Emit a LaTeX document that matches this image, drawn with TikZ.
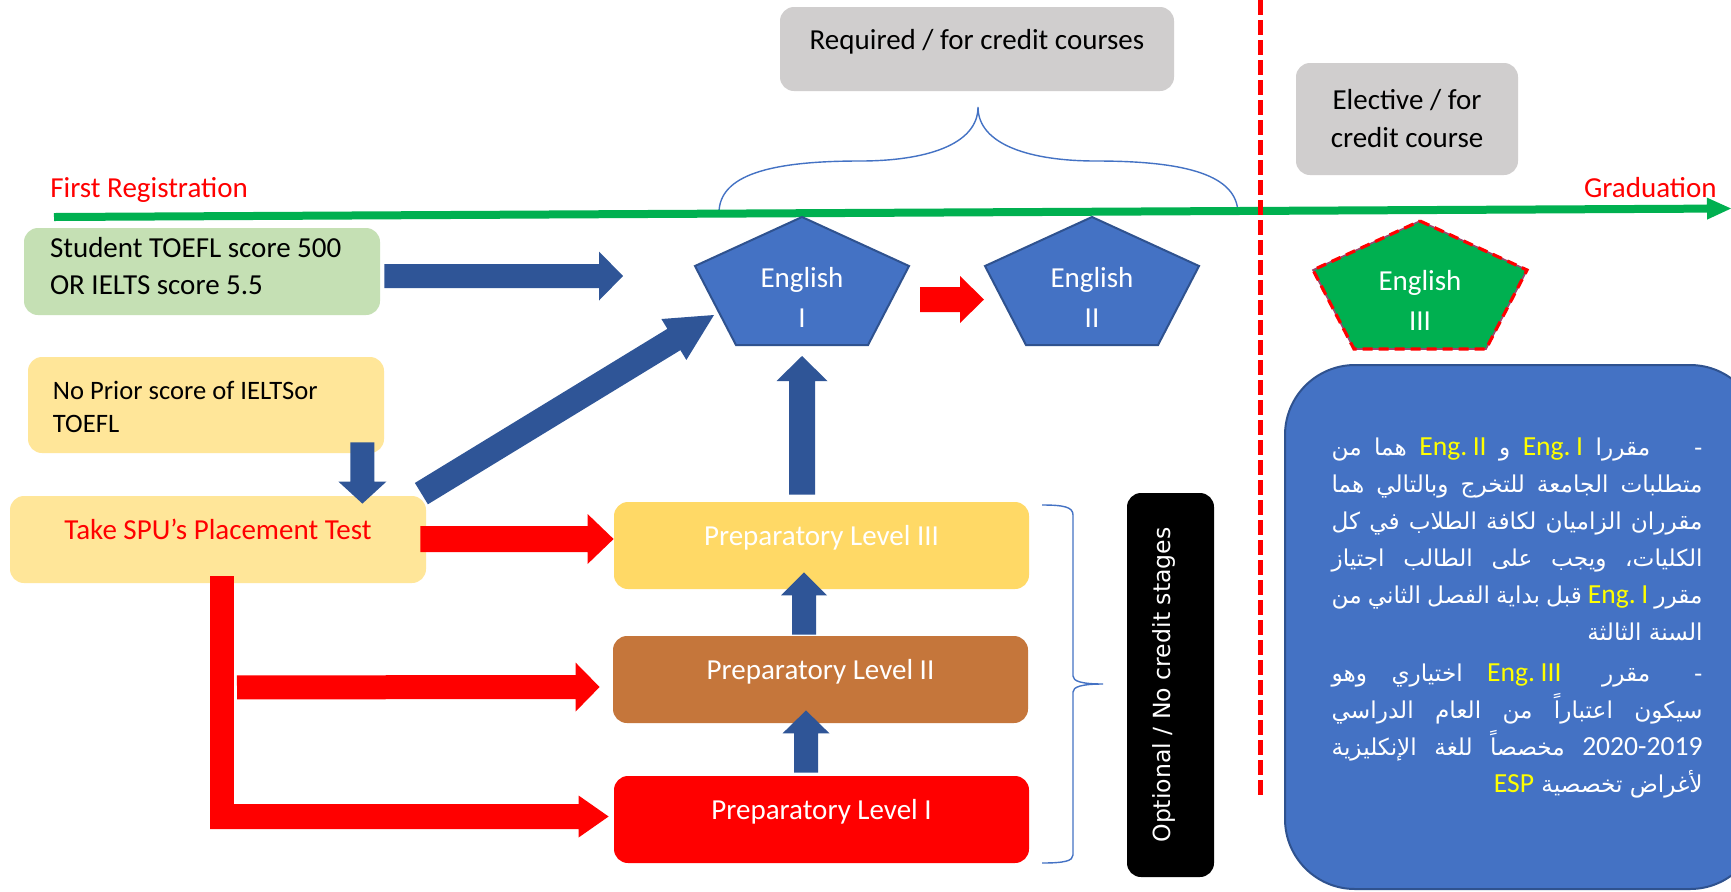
\documentclass[tikz,border=0pt]{standalone}
\usepackage{fontspec}
\setmainfont{Carlito}
\newfontfamily\dejavu{DejaVu Sans}
\newfontfamily\arabicfont[Script=Arabic,Color=FFFFFF]{DejaVu Sans}
\newfontfamily\engyellow[Color=FFFF00]{Carlito}
\newfontfamily\engwhite[Color=FFFFFF]{Carlito}
\TeXXeTstate=1
\usetikzlibrary{calc}
\definecolor{cblue}{HTML}{4472C4}
\definecolor{cbluedk}{HTML}{2F528F}
\definecolor{carrow}{HTML}{2F5597}
\definecolor{cgreen}{HTML}{00B050}
\definecolor{cgreenl}{HTML}{C5E0B4}
\definecolor{cyell}{HTML}{FFE699}
\definecolor{clvthree}{HTML}{FFD966}
\definecolor{clvtwo}{HTML}{C5763B}
\definecolor{cred}{HTML}{FF0000}
\definecolor{cgray}{HTML}{D0CECE}
\definecolor{cpurp}{HTML}{A0436E}
\newcommand\Y[1]{{\engyellow\fontsize{13.8}{18.5}\selectfont\beginL #1\endL}}
\newcommand\W[1]{{\engwhite\fontsize{13.8}{18.5}\selectfont\beginL #1\endL}}
\newcommand\arj[1]{\hbox to 185.5pt{\spaceskip=0.2em plus 1fil\relax\beginR #1\endR}}
\newcommand\arr[1]{\hbox to 185.5pt{\hfill\beginR #1\endR}}
\newcommand\blockarrow[6]{%
  \coordinate (bah) at ($(#3)!#6!(#2)$);
  \fill[#1] ($(#2)!#4!90:(#3)$) -- ($(bah)!#4!90:(#3)$) -- ($(bah)!#5!90:(#3)$) -- (#3)
    -- ($(bah)!#5!-90:(#3)$) -- ($(bah)!#4!-90:(#3)$) -- ($(#2)!#4!-90:(#3)$) -- cycle;}
\newcommand\pentagon[2]{\path[#2] ($(#1)+(0,-64)$) -- ($(#1)+(107,-15)$) -- ($(#1)+(66,64)$)
  -- ($(#1)+(-66,64)$) -- ($(#1)+(-107,-15)$) -- cycle;}
\begin{document}
\begin{tikzpicture}[x=0.5pt,y=-0.5pt,
  box/.style={rounded corners=7pt, inner sep=0pt, draw=none},
  lbl/.style={font=\fontsize{14.5}{18.5}\selectfont, inner sep=0pt},
  bl/.style={text height=6pt, text depth=6pt},
  brace/.style={draw=cblue, line width=0.7pt},
  bluepent/.style={fill=cblue, draw=cbluedk, line width=1pt}]
\useasboundingbox (0,0) rectangle (1731,891);
\fill[white] (0,0) rectangle (1731,891);

% braces
\draw[brace] (719,213) .. controls (719,175) and (770,161) .. (860,161)
  .. controls (925,161) and (978,145) .. (978,107)
  .. controls (978,145) and (1031,161) .. (1096,161)
  .. controls (1186,161) and (1238,175) .. (1238,214);
\draw[brace] (1042,505) .. controls (1064,505) and (1073,507) .. (1073,515) -- (1073,676)
  .. controls (1073,681) and (1081,684) .. (1103,684)
  .. controls (1081,684) and (1073,687) .. (1073,692) -- (1073,855)
  .. controls (1073,861) and (1064,863) .. (1042,863);

% timeline
\node[lbl, text=cred, anchor=base west] (firstreg) at (50,197) {First Registration};
\node[lbl, text=cred, anchor=base east] (grad) at (1717,197) {Graduation};
\coordinate (tl0) at ($(firstreg.base west)+(4,20)$);
\coordinate (tl1) at ($(grad.base east)+(14,11.5)$);
\blockarrow{cgreen}{tl0}{tl1}{2pt}{5.5pt}{12pt}

% gray boxes
\node[box, fill=cgray, minimum width=197pt, minimum height=42pt, lbl, bl] (req) at (977,49) {Required / for credit courses};
\node[box, fill=cgray, minimum width=111pt, minimum height=56pt, lbl, align=center, font=\fontsize{14.5}{19}\selectfont] (elec) at (1407,119) {Elective / for\\credit course};

% pentagons
\coordinate (e1c) at (802,281);
\coordinate (e2c) at (1092,281);
\coordinate (e3c) at (1420,285);
\pentagon{e1c}{bluepent}
\pentagon{e2c}{bluepent}
\pentagon{e3c}{fill=cgreen, draw=cpurp, line width=0.8pt}
\pentagon{e3c}{draw=cred, line width=1.6pt, dash pattern=on 5pt off 3pt}
\node[lbl, text=white, align=center, font=\fontsize{14.5}{20}\selectfont] (eng1) at ($(e1c)+(0,16)$) {English\\I};
\node[lbl, text=white, align=center, font=\fontsize{14.5}{20}\selectfont] (eng2) at ($(e2c)+(0,16)$) {English\\II};
\node[lbl, text=white, align=center, font=\fontsize{14.5}{20}\selectfont] (eng3) at ($(e3c)+(0,15.5)$) {English\\III};

% left boxes
\node[box, fill=cgreenl, minimum width=178pt, minimum height=43.5pt] (stud) at (202,271.5) {};
\node[lbl, anchor=west, align=left] (studt) at ($(stud.west)+(26,-5)$) {Student TOEFL score 500\\OR IELTS score 5.5};
\node[box, fill=cyell, minimum width=178pt, minimum height=48pt] (noprior) at (206,405) {};
\node[lbl, anchor=west, align=left, font=\fontsize{13.3}{16.5}\selectfont] (noprt) at ($(noprior.west)+(25,1.5)$) {No Prior score of IELTSor\\TOEFL};
\node[box, fill=cyell, minimum width=208pt, minimum height=43.5pt, lbl, bl, text=cred] (spu) at (218,539.5) {Take SPU’s Placement Test};

% levels
\node[box, fill=clvthree, minimum width=207.5pt, minimum height=43.5pt, lbl, bl, text=white] (lv3) at (821.5,545.5) {Preparatory Level III};
\node[box, fill=clvtwo, minimum width=207.5pt, minimum height=43.5pt, lbl, bl, text=white] (lv2) at (820.5,679.5) {Preparatory Level II};
\node[box, fill=cred, minimum width=207.5pt, minimum height=43.5pt, lbl, bl, text=white] (lv1) at (821.5,819.5) {Preparatory Level I};

% black box
\node[box, fill=black, minimum width=43.5pt, minimum height=192pt] (opt) at (1170.5,685) {};
\node[rotate=90, text=white, inner sep=0pt, font=\dejavu\fontsize{11.8}{14}\selectfont] (optt) at ($(opt)+(-7,0)$) {Optional / No credit stages};

% arabic box
\node[fill=cblue, draw=cbluedk, line width=1pt, rounded corners=35pt, minimum width=237.5pt, minimum height=262pt, inner sep=0pt] (arbox) at (1522.5,627) {};
\node[anchor=base east, inner sep=0pt, font=\arabicfont\fontsize{11.6}{18.5}\selectfont] (artext) at ($(arbox.south east)+(-58,-98)$) {\vbox{\baselineskip=18.5pt\lineskiplimit=-20pt\lineskip=0pt
\arj{-\kern 22pt مقررا \Y{Eng.\kern.2em I} و \Y{Eng.\kern.2em II} هما من}
\arj{متطلبات الجامعة للتخرج وبالتالي هما}
\arj{مقرران الزاميان لكافة الطلاب في كل}
\arj{الكليات، ويجب على الطالب اجتياز}
\arj{مقرر \Y{Eng.\kern.2em I} قبل بداية الفصل الثاني من}
\arr{السنة الثالثة}
\vskip2pt
\arj{-\kern 22pt مقرر \kern8pt\Y{Eng.\kern.2em III} اختياري وهو}
\arj{سيكون اعتباراً من العام الدراسي}
\arj{\W{2020-2019} مخصصاً للغة الإنكليزية}
\arr{لأغراض تخصصية \Y{ESP}}}};

% red dashed divider
\coordinate (dtop) at (1260,0);
\coordinate (dbot) at (1260,797);
\draw[cred, line width=2.5pt, dash pattern=on 7.5pt off 2.5pt] (dtop) -- (dbot);

% blue block arrows
\coordinate (a1s) at ($(stud.east)+(4,4.5)$);
\coordinate (a1e) at ($(e1c)+(-179,-5)$);
\blockarrow{carrow}{a1s}{a1e}{6pt}{12.25pt}{12pt}
\coordinate (a2s) at ($(spu.north east)+(-5,-2)$);
\coordinate (a2e) at ($(e1c)+(-88,34)$);
\blockarrow{carrow}{a2s}{a2e}{6.25pt}{12pt}{23.5pt}
\coordinate (a3s) at ($(noprior.south east)+(-22,-11)$);
\coordinate (a3e) at ($(spu.north east)+(-64,8)$);
\blockarrow{carrow}{a3s}{a3e}{6pt}{12pt}{11pt}
\coordinate (a4s) at ($(lv3.north)+(-19.5,-7)$);
\coordinate (a4e) at ($(e1c)+(0,75)$);
\blockarrow{carrow}{a4s}{a4e}{6.5pt}{12.75pt}{12.5pt}
\coordinate (a5s) at ($(lv2.north)+(-16.5,-1)$);
\coordinate (a5e) at ($(lv3.south)+(-17.5,-17)$);
\blockarrow{carrow}{a5s}{a5e}{6pt}{11.5pt}{11.5pt}
\coordinate (a6s) at ($(lv1.north)+(-15.5,-3)$);
\coordinate (a6e) at ($(lv2.south)+(-14.5,-13)$);
\blockarrow{carrow}{a6s}{a6e}{6pt}{11.75pt}{11.5pt}

% red block arrows
\coordinate (r1s) at ($(e1c)+(118,18.5)$);
\coordinate (r1e) at ($(e2c)+(-108,18.5)$);
\blockarrow{cred}{r1s}{r1e}{6.25pt}{11.75pt}{12pt}
\coordinate (r2s) at ($(spu.east)+(-6,-0.5)$);
\coordinate (r2e) at ($(lv3.west)+(0,-6.5)$);
\blockarrow{cred}{r2s}{r2e}{6.5pt}{12.5pt}{13pt}
\coordinate (r3s) at ($(spu.south)+(19,104)$);
\coordinate (r3e) at ($(lv2.west)+(-13,7.5)$);
\blockarrow{cred}{r3s}{r3e}{6pt}{12.25pt}{12pt}
\coordinate (r4s) at ($(spu.south)+(4,-7)$);
\coordinate (r4e) at ($(lv1.west)+(-5,-3)$);
\coordinate (r4c) at (r4s |- r4e);
\fill[cred] ($(r4s)+(-12,0)$) rectangle ($(r4c)+(12,12.5)$);
\coordinate (r4h) at ($(r4c)+(-12,0)$);
\blockarrow{cred}{r4h}{r4e}{6.25pt}{10.5pt}{15pt}
\end{tikzpicture}
\end{document}
